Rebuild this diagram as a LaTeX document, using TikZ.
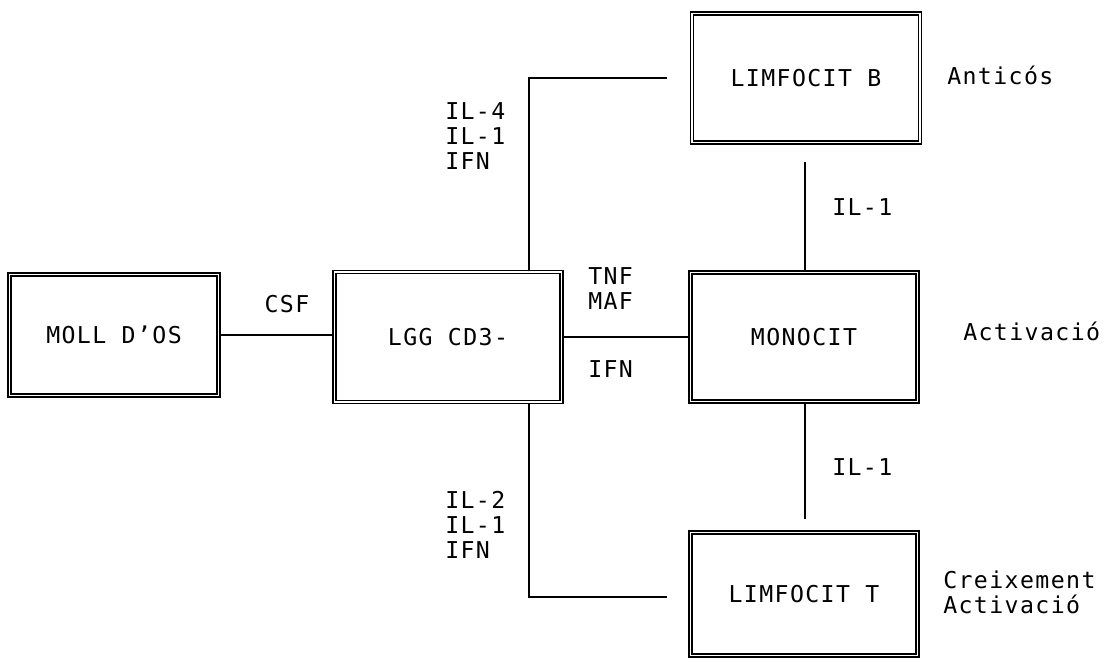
\documentclass[tikz,border=0pt]{standalone}
\usepackage{fontspec}
\newfontfamily\plotfont[LetterSpace=6]{DejaVu Sans Mono}
\usetikzlibrary{calc,positioning}

\begin{document}
\begin{tikzpicture}[x=0.025cm,y=-0.025cm,
        every node/.style={font={\plotfont\fontsize{16.5}{17.8}\selectfont}},
        cellbox/.style={draw, line width=1pt, double=white, double distance=1.2pt,
            minimum width=5.68cm, minimum height=3.22cm, inner sep=0pt},
        link/.style={line width=0.9pt},
        tag/.style={anchor=west, align=left, inner sep=0pt}]
        \useasboundingbox (0,0) rectangle (1112,662);

        % Boxes
        \node[cellbox, minimum width=5.22cm, minimum height=3.02cm] (moll) at (114,335) {MOLL D’OS};
        \node[cellbox, minimum height=3.25cm] (lgg) at (448,337) {LGG CD3-};
        \node[cellbox] (mono) at (804,337) {MONOCIT};
        \node[cellbox, minimum width=5.70cm] (limb) at (806,78) {LIMFOCIT B};
        \node[cellbox, minimum height=3.08cm] (limt) at (804,594) {LIMFOCIT T};

        % Free ends of the connectors
        \coordinate (upbend) at (529,78);
        \coordinate (upend) at (667,78);
        \coordinate (lowbend) at (529,597);
        \coordinate (lowend) at (667,597);
        \coordinate (bgap) at (805,162);
        \coordinate (tgap) at (805,519);

        % Connectors
        \draw[link] (moll.east) -- (moll.east -| lgg.west);
        \draw[link] (lgg.east) -- (mono.west);
        \draw[link] (upbend |- lgg.north) -- (upbend) -- (upend);
        \draw[link] (lowbend |- lgg.south) -- (lowbend) -- (lowend);
        \draw[link] (bgap) -- (bgap |- mono.north);
        \draw[link] (tgap |- mono.south) -- (tgap);

        % Labels
        \node (csf) at (287,304) {CSF};
        \node[tag] (tnf) at (588,289) {TNF\\MAF};
        \node[tag] (ifn) at (588,369) {IFN};
        \node[tag] (upsig) at (445,136) {IL-4\\IL-1\\IFN};
        \node[tag] (lowsig) at (445,525) {IL-2\\IL-1\\IFN};
        \node[tag] (bil) at (832,207) {IL-1};
        \node[tag] (til) at (832,467) {IL-1};
        \node[tag] (anti) at (947,75) {Anticós};
        \node[tag] (activ) at (963,331) {Activació};
        \node[tag] (creix) at (943,592) {Creixement\\Activació};
\end{tikzpicture}
\end{document}
